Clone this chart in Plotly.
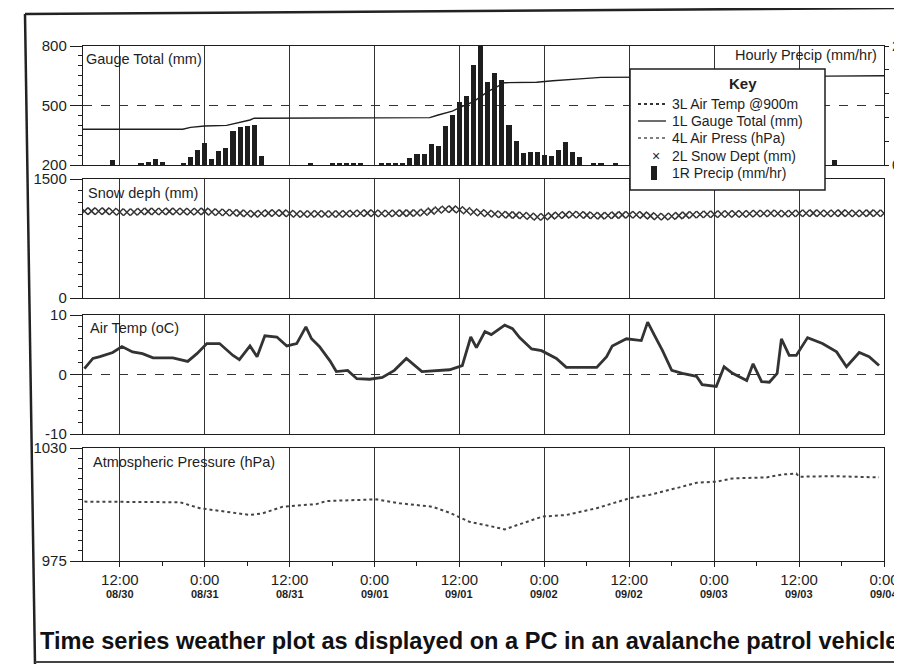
import plotly.graph_objects as go

W, H = 902, 664
OFF = 8  # the page body adds an 8px margin around the figure
def px(x): return (x - OFF) / W
def py(y): return 1 - (y - OFF) / H

FN = "Liberation Sans, Arial, sans-serif"
FW = "Liberation Sans, Arial, sans-serif"
INK = "#1e1e1e"

# ---- time axis (hours since 08/30 00:00) ----
x_tick_hours = [12, 24, 36, 48, 60, 72, 84, 96, 108, 120]
x_tick_times = ["12:00", "0:00", "12:00", "0:00", "12:00", "0:00", "12:00", "0:00", "12:00", "0:00"]
x_tick_dates = ["08/30", "08/31", "08/31", "09/01", "09/01", "09/02", "09/02", "09/03", "09/03", "09/04"]

# ---- hourly precipitation (mm/hr), hours 7..120 ----
precip_hours = list(range(7, 121))
precip = [0, 0, 0, 0, 1.0, 0, 0, 0, 0.5, 0.6, 1.2, 0.6, 0, 0,
          0.4, 1.7, 3.1, 4.6, 1.2, 2.9, 3.5, 7.1, 7.9, 8.1, 8.5, 1.9, 0, 0,
          0, 0, 0, 0, 0.3, 0, 0, 0.5, 0.3, 0.3, 0.3, 0.3, 0, 0,
          0.3, 0.3, 0.3, 0.3, 1.4, 2.3, 2.3, 4.4, 4.0, 8.1, 10.6, 13.3, 14.6, 21.0,
          25.0, 17.5, 19.4, 17.9, 8.5, 5.0, 2.5, 2.7, 2.7, 2.1, 1.9, 3.1, 4.8, 2.7,
          1.7, 0, 0.5, 0.5, 0, 0.5, 0, 0, 0, 0.3, 0, 0.3, 0, 0,
          0, 0, 0, 0, 0, 0, 0, 0, 0, 0, 0, 0, 0, 0,
          0, 0, 0, 0, 0, 0, 0, 0, 1.0, 0, 0, 0, 0, 0]

# ---- gauge total (mm) ----
gauge_hours = [6.8, 20.9, 22.0, 24.0, 27.1, 28.5, 30.4, 31.0, 55.8, 57.0, 59.0,
               60.0, 62.0, 64.0, 66.4, 70.9, 73.2, 77.0, 80.0, 112.0, 120.0]
gauge_total = [380, 380, 390, 397, 400, 410, 427, 436, 439, 452, 472,
               489, 520, 570, 615, 617, 625, 634, 642, 648, 650]

# ---- snow depth (mm), hourly 7..120 ----
snow_hours = list(range(7, 121))
snow_depth = [1095, 1095, 1093, 1095, 1090, 1085,
              1080, 1085, 1090, 1092, 1090, 1090,
              1092, 1090, 1090, 1088, 1090, 1092,
              1085, 1080, 1078, 1075, 1070, 1065,
              1060, 1065, 1070, 1072, 1070, 1065,
              1060, 1058, 1060, 1062, 1060, 1058,
              1060, 1062, 1065, 1068, 1070, 1068,
              1065, 1065, 1068, 1070, 1070, 1072,
              1080, 1095, 1110, 1118, 1120, 1112,
              1100, 1085, 1075, 1065, 1058, 1052,
              1048, 1045, 1040, 1030, 1020, 1025,
              1035, 1042, 1048, 1052, 1050, 1045,
              1040, 1035, 1040, 1045, 1048, 1050,
              1050, 1045, 1035, 1028, 1025, 1030,
              1038, 1045, 1050, 1052, 1055, 1055,
              1058, 1060, 1062, 1060, 1062, 1065,
              1065, 1068, 1065, 1063, 1065, 1068,
              1068, 1070, 1068, 1065, 1068, 1070,
              1068, 1066, 1068, 1070, 1068, 1068]

# ---- air temperature (oC) ----
temp_hours = [7.0, 8.2, 9.2, 11.0, 12.3, 13.8, 15.2, 16.7, 19.5, 20.8, 21.6, 22.9,
              24.3, 26.1, 28.0, 28.9, 29.7, 30.4, 31.4, 32.5, 34.2, 35.6, 37.0, 38.3,
              39.1, 40.2, 41.7, 42.6, 44.2, 45.5, 47.3, 49.1, 50.8, 52.5, 54.7, 58.6,
              60.4, 61.6, 62.4, 63.6, 64.5, 66.4, 67.5, 68.5, 70.2, 71.6, 73.7, 75.1,
              79.4, 80.8, 81.6, 83.6, 85.7, 86.6, 87.6, 88.7, 90.0, 91.5, 93.5, 94.3,
              96.3, 97.4, 98.6, 100.6, 101.5, 102.7, 103.8, 104.9, 105.5, 106.6, 107.6, 109.2,
              111.3, 113.3, 114.7, 116.5, 117.9, 119.3]
air_temp = [1.0, 2.7, 3.0, 3.7, 4.7, 3.8, 3.5, 2.8, 2.8, 2.5, 2.2, 3.5,
            5.2, 5.2, 3.2, 2.5, 3.8, 4.8, 3.0, 6.5, 6.3, 4.8, 5.2, 8.0,
            6.0, 4.7, 2.3, 0.5, 0.7, -0.7, -0.8, -0.5, 0.7, 2.7, 0.5, 0.8,
            1.5, 6.3, 4.5, 7.2, 6.7, 8.3, 7.7, 6.2, 4.3, 4.0, 2.7, 1.2,
            1.2, 3.0, 4.8, 6.0, 5.7, 8.8, 6.5, 4.0, 0.7, 0.2, -0.3, -1.7,
            -2.0, 1.3, 0.2, -1.0, 1.8, -1.2, -1.3, 0.2, 6.0, 3.2, 3.2, 6.2,
            5.2, 3.8, 1.3, 3.7, 3.0, 1.5]

# ---- atmospheric pressure (hPa) ----
press_hours = [7.0, 20.5, 23.3, 27.1, 30.4, 32.2, 35.0, 39.8, 41.2, 48.3, 51.5, 56.2,
               58.6, 60.0, 61.4, 64.3, 66.4, 67.5, 69.5, 71.7, 75.1, 79.4, 84.0, 86.9,
               91.5, 93.5, 96.3, 98.6, 103.4, 105.6, 107.6, 108.0, 112.7, 119.3]
pressure = [1003.9, 1003.6, 1000.7, 999.0, 997.4, 998.2, 1001.4, 1002.7, 1004.2, 1005.0, 1003.1, 1001.4,
            998.5, 996.3, 994.1, 992.0, 990.4, 991.7, 994.1, 996.6, 997.4, 1000.7, 1005.5, 1007.2,
            1011.2, 1013.1, 1013.6, 1015.2, 1015.7, 1017.1, 1017.6, 1016.0, 1016.3, 1015.7]

legend_items = ["3L Air Temp @900m", "1L Gauge Total (mm)", "4L Air Press (hPa)",
                "2L Snow Dept (mm)", "1R Precip (mm/hr)"]

fig = go.Figure()
fig.add_trace(go.Bar(x=precip_hours, y=precip, xaxis="x2", yaxis="y2", width=0.72,
                     marker=dict(color=INK, line=dict(width=0))))
fig.add_trace(go.Scatter(x=gauge_hours, y=gauge_total, xaxis="x2", yaxis="y", mode="lines",
                         line=dict(color=INK, width=1.4)))
fig.add_trace(go.Scatter(x=snow_hours, y=snow_depth, xaxis="x3", yaxis="y3", mode="markers",
                         marker=dict(symbol="x-thin", size=7, line=dict(width=1.5, color="#333"))))
fig.add_trace(go.Scatter(x=temp_hours, y=air_temp, xaxis="x4", yaxis="y4", mode="lines",
                         line=dict(color="#333", width=2.8)))
fig.add_trace(go.Scatter(x=press_hours, y=pressure, xaxis="x", yaxis="y5", mode="lines",
                         line=dict(color="#444", width=2, dash="dot")))

XD = [px(83), px(884)]
XR = [6.8, 120]
xcommon = dict(domain=XD, range=XR, tickvals=x_tick_hours, showgrid=True, gridcolor="#333",
               gridwidth=1, showline=True, linecolor=INK, linewidth=1.2, mirror=True, zeroline=False,
               automargin=False)

ycommon = dict(showline=True, linecolor=INK, linewidth=1.4, mirror=True, ticks="outside",
               ticklen=12, tickcolor=INK, zeroline=False, automargin=False,
               tickfont=dict(family=FN, size=15, color=INK))

fig.update_layout(
    width=W, height=H, margin=dict(l=0, r=0, t=0, b=0, pad=0, autoexpand=False),
    autosize=False,
    paper_bgcolor="white", plot_bgcolor="white", showlegend=False, bargap=0,
    xaxis=dict(**xcommon, anchor="y5", ticktext=x_tick_times, ticks="outside", ticklen=5,
               tickcolor=INK, tickfont=dict(family=FN, size=15, color=INK),
               minor=dict(dtick=6, tick0=0, ticks="outside", ticklen=4, tickcolor=INK, showgrid=False)),
    xaxis2=dict(**xcommon, anchor="y", matches="x", showticklabels=False),
    xaxis3=dict(**xcommon, anchor="y3", matches="x", showticklabels=False),
    xaxis4=dict(**xcommon, anchor="y4", matches="x", showticklabels=False),
    yaxis=dict(**ycommon, domain=[py(165), py(46)], range=[200, 800], tickvals=[200, 500, 800],
               showgrid=True, gridcolor="#333", griddash="dash",
               minor=dict(dtick=50, ticks="outside", ticklen=4, tickcolor=INK, showgrid=False)),
    yaxis2=dict(overlaying="y", side="right", anchor="x2", range=[0, 25], tickvals=[0, 5, 10, 15, 20, 25],
                ticktext=["0", "", "", "", "", "25"], ticks="outside", ticklen=4, tickcolor=INK,
                showgrid=False, zeroline=False, showline=False, automargin=False,
                tickfont=dict(family=FN, size=15, color=INK)),
    yaxis3=dict(**ycommon, domain=[py(298), py(179)], range=[0, 1500], tickvals=[0, 1500],
                showgrid=False,
                minor=dict(dtick=150, ticks="outside", ticklen=4, tickcolor=INK, showgrid=False)),
    yaxis4=dict(**ycommon, domain=[py(434), py(315)], range=[-10, 10], tickvals=[-10, 0, 10],
                ticktext=["-10", "0", "10"],
                showgrid=True, gridcolor="#333", griddash="dash",
                minor=dict(dtick=2, ticks="outside", ticklen=4, tickcolor=INK, showgrid=False)),
    yaxis5=dict(**ycommon, domain=[py(561), py(448)], range=[975, 1030], tickvals=[975, 1030],
                showgrid=False,
                minor=dict(dtick=5, ticks="outside", ticklen=4, tickcolor=INK, showgrid=False)),
)

ann = []
def txt(x, y, s, size=14.5, anchor="left", fam=FN, bold=False, xref="paper", color=INK):
    ann.append(dict(x=x if xref != "paper" else px(x), y=py(y), xref=xref, yref="paper",
                    text=f"<b>{s}</b>" if bold else s, showarrow=False, xanchor=anchor,
                    yanchor="middle", font=dict(family=fam, size=size, color=color)))

# panel titles
txt(84, 59, "Gauge Total (mm)")
txt(879, 55, "Hourly Precip (mm/hr)", anchor="right")
txt(86, 193, "Snow deph (mm)")
txt(88, 328, "Air Temp (oC)")
txt(91, 462, "Atmospheric Pressure (hPa)")

# date labels under the time ticks
for h, d in zip(x_tick_hours, x_tick_dates):
    txt(h, 594, d, size=11, anchor="center", fam=FW, bold=True, xref="x")

# caption
txt(38, 641, "Time series weather plot as displayed on a PC in an avalanche patrol vehicle",
    size=23.6, fam=FW, bold=True, color="#111")

# key box
shapes = [
    dict(type="rect", xref="paper", yref="paper", x0=px(630), x1=px(825), y0=py(190), y1=py(69),
         fillcolor="white", line=dict(color=INK, width=1.5), layer="above"),
]
txt(727, 84, "Key", size=15, bold=True)
item_y = [104, 121, 138, 156, 173]
for s, yy in zip(legend_items, item_y):
    txt(670, yy, s, size=14)
shapes.append(dict(type="line", xref="paper", yref="paper", x0=px(638), x1=px(666),
                   y0=py(item_y[0]), y1=py(item_y[0]), line=dict(color="#333", width=2.2, dash="dot"),
                   layer="above"))
shapes.append(dict(type="line", xref="paper", yref="paper", x0=px(638), x1=px(666),
                   y0=py(item_y[1]), y1=py(item_y[1]), line=dict(color=INK, width=1.3), layer="above"))
shapes.append(dict(type="line", xref="paper", yref="paper", x0=px(638), x1=px(666),
                   y0=py(item_y[2]), y1=py(item_y[2]), line=dict(color="#555", width=1.6, dash="dot"),
                   layer="above"))
txt(656, item_y[3], "×", size=14, anchor="center", fam=FW)
shapes.append(dict(type="rect", xref="paper", yref="paper", x0=px(651), x1=px(657),
                   y0=py(item_y[4] + 7), y1=py(item_y[4] - 7), fillcolor=INK,
                   line=dict(width=0), layer="above"))

# outer frame of the scanned page
shapes += [
    dict(type="line", xref="paper", yref="paper", x0=px(25), y0=py(14), x1=px(902), y1=py(8),
         line=dict(color="#222", width=2.5)),
    dict(type="line", xref="paper", yref="paper", x0=px(25), y0=py(14), x1=px(35), y1=py(664),
         line=dict(color="#222", width=2.5)),
    dict(type="line", xref="paper", yref="paper", x0=px(35), y0=py(662), x1=px(902), y1=py(662),
         line=dict(color="#444", width=2)),
]

fig.update_layout(annotations=ann, shapes=shapes)
fig.write_html("out.html")
